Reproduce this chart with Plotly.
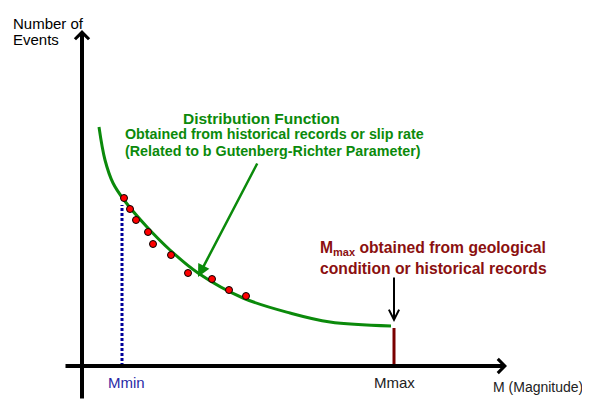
import plotly.graph_objects as go

# ---- data (schematic units: origin at axes intersection) ----
curve_m = [17, 23, 31, 42, 65, 88, 116, 161, 208, 248, 309]
curve_n = [239, 206, 183, 166, 139, 116, 93, 68, 53, 44, 40]

obs_m = [42, 48, 54, 66, 71, 89, 106, 130, 147, 164]
obs_n = [168, 157, 146, 134, 122, 111, 93, 87, 76, 70]

m_min = 40
m_max = 312
m_min_top = 161
m_max_top = 38

tick_labels = ["Mmin", "Mmax"]

GREEN = "#0b8a0b"
DARKRED = "#8b1010"
BLUE = "#00009a"
FONT = "Liberation Sans, Arial, sans-serif"

fig = go.Figure()

# Mmin dotted line
fig.add_trace(go.Scatter(x=[m_min, m_min], y=[0, m_min_top], mode="lines",
                         line=dict(color=BLUE, width=3, dash="3px,2px"),
                         hoverinfo="skip", showlegend=False))
# Mmax line
fig.add_trace(go.Scatter(x=[m_max, m_max], y=[0, m_max_top], mode="lines",
                         line=dict(color="#7a0000", width=3),
                         hoverinfo="skip", showlegend=False))
# distribution curve
fig.add_trace(go.Scatter(x=curve_m, y=curve_n, mode="lines",
                         line=dict(color=GREEN, width=3, shape="spline", smoothing=1.0),
                         hoverinfo="skip", showlegend=False))
# observed points
fig.add_trace(go.Scatter(x=obs_m, y=obs_n, mode="markers",
                         marker=dict(color="#ff0000", size=7, line=dict(color="black", width=1)),
                         hoverinfo="skip", showlegend=False))

def arrow(x, y, ax, ay, color, width, head, size):
    fig.add_annotation(x=x, y=y, ax=ax, ay=ay, xref="x", yref="y", axref="x", ayref="y",
                       text="", showarrow=True, arrowhead=head, arrowsize=size,
                       arrowwidth=width, arrowcolor=color, standoff=0, startstandoff=0)

# axes arrows
arrow(0, 336, 0, -34, "black", 4, 4, 0.68)
arrow(425, 0, -18, 0, "black", 4, 4, 0.68)
# Mmax pointer
arrow(m_max, 44, m_max, 90, "black", 2, 5, 1)
# distribution pointer
arrow(116, 89, 176, 204, GREEN, 2.5, 2, 1)

def label(x, y, text, size, color, anchor="left", bold=False):
    if bold:
        text = "<b>" + text + "</b>"
    fig.add_annotation(x=x, y=y, xref="x", yref="y", text=text, showarrow=False,
                       xanchor=anchor, yanchor="middle",
                       font=dict(family=FONT, size=size, color=color))

label(-71, 343, "Number of", 15, "black")
label(-71, 327, "Events", 15, "black")
label(m_min + 4, -16, tick_labels[0], 15, "#2a2aa6", anchor="center")
label(m_max, -16, tick_labels[1], 15, "#222222", anchor="center")
label(409, -21, "M (Magnitude)", 14, "#222222")

label(179, 248, "Distribution Function", 15.5, GREEN, anchor="center", bold=True)
label(41, 232, "Obtained from historical records or slip rate", 14.3, GREEN, bold=True)
label(41, 215, "(Related to b Gutenberg-Richter Parameter)", 14.3, GREEN, bold=True)

label(236, 118, "M<sub>max</sub> obtained from geological", 15.7, DARKRED, bold=True)
label(236, 98, "condition or historical records", 15.7, DARKRED, bold=True)

# page body has an 8px margin: figure covers window pixels 8..590 x 8..400
fig.update_xaxes(range=[-74, 508], visible=False, fixedrange=True)
fig.update_yaxes(range=[-34, 358], visible=False, fixedrange=True)
fig.update_layout(width=582, height=392, margin=dict(l=0, r=0, t=0, b=0),
                  paper_bgcolor="white", plot_bgcolor="white", showlegend=False)

fig.write_html("out.html", config={"displayModeBar": False})
